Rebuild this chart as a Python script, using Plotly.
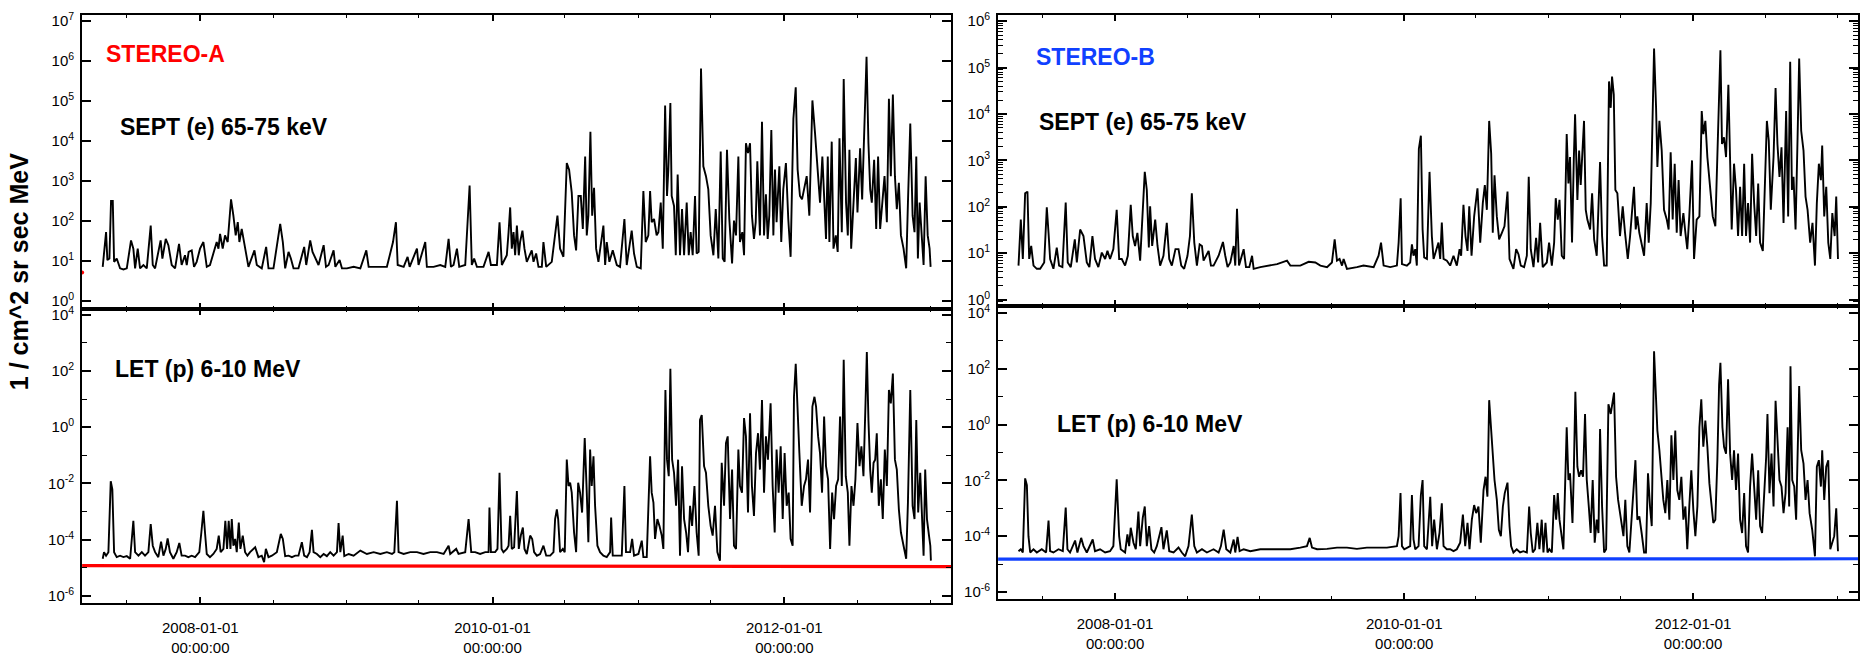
import datetime as dt
import plotly.graph_objects as go

# ---------------- data (decimal year, flux) ----------------
a_sept = [(2007.331,7.2),(2007.354,53),(2007.363,10.6),(2007.377,11.6),(2007.388,320),(2007.400,320),(2007.409,9.6),(2007.427,11.6),(2007.450,6.6),(2007.473,6.2),(2007.496,6.6),(2007.525,33),(2007.541,20.5),(2007.553,6.6),(2007.571,20.5),(2007.587,6.6),(2007.610,8),(2007.633,6.6),(2007.660,77),(2007.674,8),(2007.690,6.6),(2007.728,33),(2007.740,11.6),(2007.763,36),(2007.781,25),(2007.804,8),(2007.827,6.6),(2007.854,27),(2007.872,8),(2007.895,14),(2007.907,8),(2007.920,17),(2007.941,18.6),(2007.957,7.2),(2007.975,9.6),(2007.998,20.5),(2008.021,30),(2008.044,7.2),(2008.066,8),(2008.112,30),(2008.124,20.5),(2008.135,48),(2008.153,20.5),(2008.169,44),(2008.187,30),(2008.210,350),(2008.226,137),(2008.242,44),(2008.256,94),(2008.267,30),(2008.283,64),(2008.299,30),(2008.313,14),(2008.329,7.2),(2008.370,18.6),(2008.386,8),(2008.420,6.6),(2008.450,22.6),(2008.466,6.6),(2008.500,6.6),(2008.546,85),(2008.564,30),(2008.580,6.6),(2008.603,17),(2008.619,11.6),(2008.637,6.6),(2008.671,6.6),(2008.710,22.6),(2008.724,8),(2008.751,33),(2008.767,17),(2008.786,11.6),(2008.808,8),(2008.843,25),(2008.859,7.2),(2008.877,8),(2008.911,18.6),(2008.923,7.2),(2008.952,10.6),(2008.968,6.6),(2009.002,6.6),(2009.048,7.2),(2009.094,6.6),(2009.135,18.6),(2009.151,7.2),(2009.208,7.2),(2009.276,7.2),(2009.318,30),(2009.338,94),(2009.350,8),(2009.391,7.2),(2009.418,12.8),(2009.432,7.2),(2009.482,20.5),(2009.493,8),(2009.539,30),(2009.550,7.2),(2009.596,7.2),(2009.642,8),(2009.676,7.2),(2009.699,36),(2009.715,7.2),(2009.733,8),(2009.756,20.5),(2009.772,7.2),(2009.813,8),(2009.843,780),
(2009.858,8),(2009.874,11.6),(2009.893,7.2),(2009.938,7.2),(2009.973,17),(2009.989,8),(2010.030,8),(2010.048,94),(2010.064,8),(2010.098,14),(2010.110,53),(2010.121,220),(2010.132,20.5),(2010.144,53),(2010.155,14),(2010.167,77),(2010.180,14),(2010.189,30),(2010.205,58),(2010.219,20.5),(2010.235,9.6),(2010.269,18.6),(2010.281,9.6),(2010.299,15.5),(2010.315,7.2),(2010.338,7.2),(2010.349,30),(2010.368,7.2),(2010.406,9.6),(2010.429,53),(2010.445,137),(2010.463,20.5),(2010.486,12.8),(2010.509,2840),(2010.525,1940),(2010.543,515),(2010.559,44),(2010.573,18.6),(2010.589,425),(2010.605,425),(2010.619,64),(2010.635,4140),(2010.646,44),(2010.657,137),(2010.671,17200),(2010.683,137),(2010.696,685),(2010.710,20.5),(2010.726,9.6),(2010.760,77),(2010.772,8),(2010.783,30),(2010.801,9.6),(2010.824,18.6),(2010.852,8),(2010.874,7.2),(2010.904,113),(2010.920,8),(2010.954,58),(2010.970,15.5),(2010.989,7.2),(2011.016,6.6),(2011.034,565),(2011.050,30),(2011.068,44),(2011.080,565),(2011.091,94),(2011.107,113),(2011.125,44),(2011.137,53),(2011.153,290),(2011.167,20.5),(2011.183,78000),(2011.196,425),(2011.205,1940),(2011.219,89000),(2011.228,425),(2011.244,240),(2011.256,14),(2011.269,1460),(2011.285,14),(2011.299,200),(2011.313,14),(2011.331,290),(2011.345,14),(2011.358,53),(2011.372,14),(2011.388,425),(2011.399,15.5),(2011.413,17),(2011.429,650000),(2011.445,2340),(2011.463,1330),(2011.479,620),(2011.495,44),(2011.514,14),(2011.530,200),(2011.548,11.6),(2011.564,5500),(2011.578,11.6),(2011.591,9.6),(2011.607,6050),(2011.623,113),(2011.642,8.8),(2011.655,103),(2011.669,44),(2011.685,4140),(2011.696,30),(2011.712,53),(2011.724,14),(2011.737,8850),(2011.751,5000),(2011.765,8850),(2011.778,137),(2011.792,36),(2011.804,94),(2011.815,3120),(2011.833,44),(2011.847,30300),(2011.861,44),(2011.874,470),(2011.886,36),(2011.897,137),(2011.911,18900),(2011.925,44),(2011.936,1940),(2011.947,94),(2011.966,2340),(2011.979,30),(2011.993,620),(2012.011,2840),(2012.027,113),(2012.043,12.8),(2012.062,36600),(2012.078,222000),(2012.091,1940),(2012.107,425),(2012.121,350),(2012.137,685),(2012.153,1330),(2012.171,137),(2012.192,104000),(2012.210,15600),(2012.226,1940),(2012.244,290),(2012.260,4140),(2012.274,290),(2012.285,36),(2012.297,4140),(2012.308,30),(2012.324,9700),(2012.336,20.5),(2012.352,44),(2012.365,17),(2012.377,11750),(2012.393,53),(2012.406,356000),(2012.422,290),(2012.434,44),(2012.445,6050),(2012.457,20.5),(2012.473,290),(2012.489,3770),(2012.500,165),(2012.518,6650),(2012.532,350),(2012.546,27500),(2012.562,1290000),(2012.575,8850),(2012.587,620),(2012.598,290),(2012.614,3430),(2012.628,64),(2012.641,4140),(2012.655,64),(2012.669,290),(2012.685,1330),(2012.701,94),(2012.715,114000),(2012.728,1330),(2012.742,146000),(2012.756,1330),(2012.769,200),(2012.783,910),(2012.797,44),(2012.815,20.5),(2012.833,6.6),(2012.845,290),(2012.861,27500),(2012.877,137),(2012.890,53),(2012.902,4140),(2012.913,11.6),(2012.925,290),(2012.938,64),(2012.952,8),(2012.966,1330),(2012.980,44),(2012.993,20.5),(2013.000,7.2)]

a_let = [(2007.331,2.1e-5),(2007.340,3.6e-5),(2007.354,2.7e-5),(2007.370,3.6e-5),(2007.386,1.2e-2),(2007.397,6.1e-3),(2007.409,3.6e-5),(2007.427,2.4e-5),(2007.450,2.7e-5),(2007.473,2.4e-5),(2007.496,2.6e-5),(2007.519,2.1e-5),(2007.541,4.7e-4),(2007.553,3.6e-5),(2007.576,2.7e-5),(2007.599,3.6e-5),(2007.621,2.7e-5),(2007.644,3.6e-5),(2007.660,3.6e-4),(2007.674,6.1e-5),(2007.690,3.6e-5),(2007.712,2.4e-5),(2007.731,8.5e-5),(2007.747,2.7e-5),(2007.763,4.7e-5),(2007.776,1.1e-4),(2007.792,3.6e-5),(2007.815,2.1e-5),(2007.838,3.6e-5),(2007.856,7.6e-5),(2007.872,2.7e-5),(2007.895,2.7e-5),(2007.918,2.4e-5),(2007.941,2.7e-5),(2007.964,2.4e-5),(2007.993,3.6e-5),(2008.007,1.8e-4),(2008.021,1.06e-3),(2008.032,1.8e-4),(2008.044,3.1e-5),(2008.066,2.4e-5),(2008.089,3.1e-5),(2008.112,4.7e-5),(2008.126,1.4e-4),(2008.139,3.6e-5),(2008.158,4.7e-5),(2008.171,4.7e-4),(2008.183,4.7e-5),(2008.194,4.7e-4),(2008.206,4.7e-5),(2008.215,5.4e-4),(2008.226,6.1e-5),(2008.238,1.06e-4),(2008.249,3.6e-5),(2008.263,4.1e-4),(2008.274,4.7e-5),(2008.290,1.4e-4),(2008.306,3.6e-5),(2008.322,2.7e-5),(2008.340,3.6e-5),(2008.375,5.4e-5),(2008.397,2.4e-5),(2008.420,2.7e-5),(2008.436,1.6e-5),(2008.448,4.7e-5),(2008.466,2.4e-5),(2008.489,2.7e-5),(2008.523,3.6e-5),(2008.550,1.6e-4),(2008.564,1.06e-4),(2008.580,2.6e-5),(2008.603,2.7e-5),(2008.626,2.4e-5),(2008.649,2.7e-5),(2008.671,2.7e-5),(2008.694,8.1e-5),(2008.710,2.7e-5),(2008.729,2.4e-5),(2008.747,3.6e-5),(2008.763,2.25e-4),(2008.774,3.6e-5),(2008.797,3.1e-5),(2008.820,2.4e-5),(2008.843,3.1e-5),(2008.865,2.6e-5),(2008.888,3.6e-5),(2008.911,2.7e-5),(2008.934,3.6e-5),(2008.945,3.9e-4),(2008.957,3.6e-5),(2008.973,1.4e-4),(2008.984,2.6e-5),(2009.014,3.1e-5),(2009.048,2.7e-5),(2009.094,4.1e-5),(2009.139,3.1e-5),(2009.185,3.6e-5),(2009.231,3.1e-5),(2009.276,3.6e-5),(2009.311,3.1e-5),(2009.327,3.6e-5),(2009.345,2.4e-3),(2009.356,3.6e-5),(2009.391,3.1e-5),(2009.436,3.6e-5),(2009.482,3.6e-5),(2009.527,3.1e-5),(2009.573,3.6e-5),(2009.619,3.6e-5),(2009.665,3.1e-5),(2009.699,6.1e-5),(2009.710,3.1e-5),(2009.751,4.7e-5),(2009.767,3.1e-5),(2009.813,3.6e-5),(2009.836,5.4e-4),
(2009.854,3.6e-5),(2009.881,3.6e-5),(2009.915,3.1e-5),(2009.950,3.6e-5),(2009.973,3.6e-5),(2009.979,1.4e-3),(2009.989,3.6e-5),(2010.018,3.6e-5),(2010.034,4.7e-5),(2010.048,2.4e-2),(2010.062,4.7e-5),(2010.075,3.6e-5),(2010.098,4.7e-5),(2010.110,6.1e-5),(2010.121,7e-4),(2010.132,4.7e-5),(2010.148,5.4e-5),(2010.167,5.4e-3),(2010.180,4.7e-5),(2010.194,1.4e-4),(2010.208,2.7e-4),(2010.219,4.7e-5),(2010.235,3.1e-5),(2010.258,1.4e-4),(2010.272,1.06e-4),(2010.285,3.6e-5),(2010.304,2.7e-5),(2010.326,3.1e-5),(2010.349,6.1e-5),(2010.368,2.7e-5),(2010.395,2.7e-5),(2010.418,3.6e-5),(2010.429,5.4e-4),(2010.441,1.2e-3),(2010.450,5.4e-4),(2010.463,3.6e-5),(2010.482,4.7e-5),(2010.495,3.6e-5),(2010.509,7e-2),(2010.521,8.1e-3),(2010.532,1.06e-2),(2010.543,4.7e-3),(2010.559,1.8e-4),(2010.573,3.6e-5),(2010.587,1.06e-2),(2010.600,4.7e-3),(2010.614,9.2e-4),(2010.632,0.41),(2010.646,4.7e-3),(2010.657,8.1e-5),(2010.669,0.16),(2010.680,8.1e-3),(2010.692,9.2e-2),(2010.703,1.6e-3),(2010.719,6.1e-5),(2010.737,3.6e-5),(2010.760,2.7e-5),(2010.783,2.4e-5),(2010.806,3.6e-5),(2010.813,6.1e-4),(2010.824,2.7e-5),(2010.852,2.7e-5),(2010.886,2.7e-5),(2010.904,8.1e-3),(2010.915,3.6e-5),(2010.943,3.6e-5),(2010.957,1.06e-4),(2010.970,2.7e-5),(2011.000,3.1e-5),(2011.023,9.2e-5),(2011.034,2.4e-5),(2011.057,2.4e-5),(2011.080,9.2e-2),(2011.091,4.7e-3),(2011.103,2.1e-3),(2011.114,1.06e-4),(2011.130,5.4e-4),(2011.144,3.1e-4),(2011.160,1.4e-4),(2011.171,4.7e-5),(2011.185,21),(2011.196,7e-2),(2011.208,1.8e-2),(2011.219,120),(2011.231,7e-2),(2011.244,2.4e-2),(2011.258,1.6e-3),(2011.272,7e-2),(2011.285,2.7e-5),(2011.299,4.1e-2),(2011.313,5.4e-4),(2011.327,1.8e-4),(2011.340,3.6e-5),(2011.354,1.6e-3),(2011.368,3.1e-4),(2011.384,8.1e-3),(2011.399,1.8e-4),(2011.413,2.7e-5),(2011.422,1.8),(2011.434,2.7),(2011.450,4.1e-2),(2011.463,2.4e-2),(2011.479,1.6e-3),(2011.495,3.1e-4),(2011.509,1.4e-4),(2011.525,1.6e-3),(2011.541,3.6e-5),(2011.559,1.8e-5),(2011.571,5.4e-2),(2011.587,1.6e-3),(2011.600,0.27),(2011.612,0.47),(2011.628,5.4e-4),(2011.642,3.1e-2),(2011.655,6.1e-5),(2011.669,4.7e-5),(2011.685,0.16),(2011.696,8.1e-3),(2011.710,4.7e-3),(2011.724,2.1),(2011.737,0.47),(2011.751,9.2e-4),(2011.765,3.1),(2011.778,8.1e-3),(2011.792,7e-4),(2011.806,0.12),(2011.820,0.61),(2011.833,3.1e-2),(2011.847,9.2),(2011.861,4.7e-3),(2011.874,0.47),(2011.888,7e-2),(2011.906,7),(2011.920,8.1e-3),(2011.934,1.8e-4),(2011.947,0.16),(2011.961,4.7e-3),(2011.975,0.21),(2011.989,5.4e-4),(2012.002,0.12),(2012.016,1.6e-3),(2012.030,4.7e-3),(2012.043,1.06e-4),(2012.057,6.1e-5),(2012.066,12),(2012.078,180),(2012.089,12),(2012.103,0.12),(2012.119,1.6e-3),(2012.135,8.1e-3),(2012.148,1.4e-2),(2012.162,7e-2),(2012.176,9.2e-4),(2012.192,5.4),(2012.206,12),(2012.217,5.4),(2012.231,0.47),(2012.244,0.12),(2012.258,4.7e-3),(2012.272,2.4),(2012.285,4.1e-2),(2012.299,1.4e-2),(2012.313,4.7e-5),(2012.327,4.7e-3),(2012.340,5.4e-4),(2012.354,8.1e-3),(2012.368,1.4e-2),(2012.381,2.4),(2012.393,8.1e-3),(2012.406,250),(2012.420,1.8e-2),(2012.434,4.7e-3),(2012.445,6.1e-5),(2012.459,8.1e-3),(2012.473,1.6e-3),(2012.486,1.4e-2),(2012.500,1.4),(2012.514,4.1e-2),(2012.527,0.21),(2012.541,1.8e-2),(2012.555,7),(2012.564,470),(2012.575,1.8),(2012.587,3.1e-2),(2012.598,4.7e-3),(2012.610,5.4e-2),(2012.621,7e-2),(2012.632,0.61),(2012.646,1.6e-3),(2012.660,1.4e-2),(2012.673,5.4e-4),(2012.687,0.16),(2012.701,8.1e-3),(2012.715,21),(2012.728,7),(2012.742,80),(2012.756,7e-2),(2012.769,3.1e-2),(2012.783,1.2e-3),(2012.797,1.8e-4),(2012.815,6.1e-5),(2012.833,2.1e-5),(2012.845,2.1e-3),(2012.861,21),(2012.877,1.6e-3),(2012.890,5.4e-4),(2012.902,1.8),(2012.915,9.2e-4),(2012.929,2.4e-2),(2012.941,3.1e-4),(2012.952,2.7e-5),(2012.963,3.1e-2),(2012.975,5.4e-4),(2012.989,1.4e-4),(2012.998,6.1e-5),(2013.002,1.8e-5)]

b_sept = [(2007.331,5.4),(2007.347,53),(2007.361,7.5),(2007.377,195),(2007.393,212),(2007.405,7.5),(2007.419,14.3),(2007.435,5.4),(2007.458,4.6),(2007.481,4.6),(2007.509,6.3),(2007.527,98),(2007.539,27.5),(2007.550,7.5),(2007.573,4.6),(2007.596,13.2),(2007.612,5.4),(2007.635,5.0),(2007.658,124),(2007.672,6.3),(2007.693,5.0),(2007.721,19.9),(2007.735,6.3),(2007.758,32.4),(2007.781,23.4),(2007.804,6.3),(2007.822,5.0),(2007.843,23.4),(2007.861,7.5),(2007.884,5.0),(2007.908,10.3),(2007.931,7.5),(2007.947,11.2),(2007.965,7.5),(2007.988,12.2),(2008.011,86),(2008.028,7.5),(2008.046,7.5),(2008.069,5.4),(2008.088,8.8),(2008.108,110),(2008.122,23.4),(2008.138,14.3),(2008.154,27.5),(2008.173,6.9),(2008.191,120),(2008.205,565),(2008.219,230),(2008.233,13.2),(2008.242,102),(2008.256,14.3),(2008.277,53),(2008.293,14.3),(2008.311,5.4),(2008.334,8.8),(2008.357,45),(2008.374,7.5),(2008.392,5.4),(2008.417,12.2),(2008.438,12.2),(2008.457,5.4),(2008.477,4.6),(2008.500,8.8),(2008.517,23.4),(2008.530,195),(2008.547,16.9),(2008.565,5.4),(2008.584,15.5),(2008.600,14.3),(2008.611,6.9),(2008.627,8.8),(2008.646,11.2),(2008.662,5.4),(2008.680,5.4),(2008.715,8.8),(2008.745,17.4),(2008.761,8.8),(2008.777,5.0),(2008.796,6.3),(2008.819,14.3),(2008.830,5.4),(2008.842,91),(2008.856,5.4),(2008.876,8.8),(2008.888,12.2),(2008.904,5.0),(2008.927,5.0),(2008.946,8.8),(2008.957,4.6),(2009.003,5.0),(2009.073,5.4),(2009.119,5.8),(2009.188,6.9),(2009.211,5.4),(2009.280,5.4),(2009.338,6.5),(2009.384,6.3),(2009.419,5.4),(2009.465,5.0),(2009.499,6.3),(2009.518,19.9),(2009.534,6.9),(2009.552,7.5),(2009.569,5.4),(2009.580,7.5),(2009.603,4.6),(2009.672,5.0),(2009.718,5.4),(2009.788,5.0),(2009.822,8.8),(2009.839,16.9),(2009.857,5.4),(2009.903,5.0),(2009.949,5.4),(2009.961,16.9),(2009.975,153),
(2009.984,5.8),(2010.018,5.4),(2010.041,6.3),(2010.053,15.5),(2010.064,8.8),(2010.076,12.2),(2010.087,5.4),(2010.101,1770),(2010.115,3400),(2010.127,32.4),(2010.138,8.1),(2010.157,7.5),(2010.175,565),(2010.191,23.4),(2010.203,7.5),(2010.221,12.2),(2010.237,16.9),(2010.249,7.5),(2010.260,46),(2010.272,7.5),(2010.295,6.9),(2010.318,5.4),(2010.341,8.8),(2010.364,5.4),(2010.383,12.2),(2010.394,8.8),(2010.410,110),(2010.424,23.4),(2010.438,11.2),(2010.450,102),(2010.466,8.8),(2010.484,62),(2010.507,250),(2010.526,16.9),(2010.544,120),(2010.558,294),(2010.572,86),(2010.588,7100),(2010.602,1390),(2010.613,27.5),(2010.625,480),(2010.641,62),(2010.657,19.9),(2010.676,27.5),(2010.694,38),(2010.715,212),(2010.729,7.5),(2010.756,4.6),(2010.775,12.2),(2010.791,9.5),(2010.807,5.4),(2010.830,5.0),(2010.849,8.8),(2010.862,442),(2010.876,12.2),(2010.895,5.0),(2010.913,21.5),(2010.927,6.3),(2010.941,45),(2010.959,5.0),(2010.987,6.3),(2011.003,16.9),(2011.022,5.4),(2011.038,16.9),(2011.049,153),(2011.063,53),(2011.075,141),(2011.091,8.8),(2011.107,7.5),(2011.125,3690),(2011.137,319),(2011.148,1180),(2011.162,16.9),(2011.174,1000),(2011.183,9840),(2011.199,141),(2011.211,1630),(2011.222,294),(2011.234,1630),(2011.245,7100),(2011.257,86),(2011.268,53),(2011.287,32.4),(2011.301,195),(2011.315,19.9),(2011.333,8.8),(2011.356,922),(2011.370,23.4),(2011.384,5.4),(2011.402,5.4),(2011.418,50400),(2011.430,13600),(2011.439,64400),(2011.451,26200),(2011.462,230),(2011.476,195),(2011.494,23.4),(2011.513,102),(2011.529,27.5),(2011.548,7.5),(2011.564,23.4),(2011.578,102),(2011.591,271),(2011.603,32.4),(2011.614,62),(2011.628,27.5),(2011.644,16.9),(2011.661,8.8),(2011.679,120),(2011.693,16.9),(2011.707,120),(2011.730,258000),(2011.744,13600),(2011.753,721),(2011.767,7100),(2011.783,1630),(2011.799,86),(2011.818,53),(2011.831,32.4),(2011.845,1500),(2011.859,53),(2011.873,849),(2011.887,27.5),(2011.900,375),(2011.914,23.4),(2011.933,73),(2011.947,27.5),(2011.960,12.2),(2011.974,62),(2011.993,1000),(2012.007,7.5),(2012.025,53),(2012.044,62),(2012.060,11600),(2012.071,3690),(2012.085,7100),(2012.099,1180),(2012.117,271),(2012.136,62),(2012.154,38),(2012.168,849),(2012.180,13600),(2012.189,238000),(2012.200,2260),(2012.214,3140),(2012.228,1180),(2012.244,42800),(2012.256,1000),(2012.267,32.4),(2012.283,849),(2012.297,230),(2012.311,23.4),(2012.325,271),(2012.339,23.4),(2012.353,849),(2012.366,23.4),(2012.380,120),(2012.394,16.9),(2012.408,1390),(2012.422,120),(2012.436,23.4),(2012.450,319),(2012.463,16.9),(2012.482,11.2),(2012.496,230),(2012.510,7100),(2012.523,2670),(2012.537,86),(2012.556,1180),(2012.570,36300),(2012.583,2260),(2012.597,442),(2012.611,1920),(2012.625,45),(2012.643,11600),(2012.657,62),(2012.671,134000),(2012.683,230),(2012.694,442),(2012.708,32.4),(2012.722,3140),(2012.733,158000),(2012.747,4350),(2012.763,1630),(2012.777,166),(2012.791,86),(2012.809,16.9),(2012.825,45),(2012.842,5.4),(2012.855,120),(2012.869,849),(2012.883,375),(2012.892,2090),(2012.906,62),(2012.920,271),(2012.934,16.9),(2012.948,7.5),(2012.962,73),(2012.978,23.4),(2012.989,166),(2013.001,7.5)]

b_let = [(2007.331,2.9e-5),(2007.347,3.4e-5),(2007.361,2.6e-5),(2007.377,1.18e-2),(2007.389,6.8e-3),(2007.400,1e-4),(2007.412,2.6e-5),(2007.435,3.4e-5),(2007.458,2.6e-5),(2007.492,3.4e-5),(2007.522,2.6e-5),(2007.539,3.6e-4),(2007.550,2.9e-5),(2007.573,2.6e-5),(2007.608,3.4e-5),(2007.638,2.9e-5),(2007.658,1.07e-3),(2007.670,3.4e-5),(2007.688,2.6e-5),(2007.723,7e-5),(2007.739,2.6e-5),(2007.765,8.7e-5),(2007.781,4.4e-5),(2007.804,2.6e-5),(2007.845,7.6e-5),(2007.861,2.9e-5),(2007.896,3.4e-5),(2007.931,2.6e-5),(2007.965,2.9e-5),(2007.988,4.4e-5),(2008.011,1.09e-2),(2008.028,1e-4),(2008.039,3.4e-5),(2008.069,2.6e-5),(2008.085,1.15e-4),(2008.097,4.4e-5),(2008.108,2e-4),(2008.127,5.8e-5),(2008.143,3.4e-5),(2008.161,7.7e-4),(2008.173,4.4e-5),(2008.191,4.5e-4),(2008.205,1.16e-3),(2008.219,4.4e-5),(2008.235,2.3e-4),(2008.251,3.4e-5),(2008.270,2.6e-5),(2008.288,4.4e-5),(2008.320,2.1e-4),(2008.334,3.4e-5),(2008.357,1.6e-4),(2008.374,2.9e-5),(2008.404,2.6e-5),(2008.438,3.9e-5),(2008.461,2.6e-5),(2008.484,1.9e-5),(2008.507,4.4e-5),(2008.530,5.9e-4),(2008.547,4.4e-5),(2008.565,2.6e-5),(2008.600,3.4e-5),(2008.634,2.6e-5),(2008.680,3.4e-5),(2008.715,2.6e-5),(2008.731,4.4e-5),(2008.750,1.7e-4),(2008.768,3.4e-5),(2008.796,2.6e-5),(2008.819,7.6e-5),(2008.830,2.6e-5),(2008.846,9.5e-5),(2008.860,2.9e-5),(2008.888,3.4e-5),(2008.934,2.9e-5),(2009.003,3.4e-5),(2009.073,3.4e-5),(2009.142,3.5e-5),(2009.211,3.4e-5),(2009.280,3.9e-5),(2009.326,4.4e-5),(2009.345,8.7e-5),(2009.361,3.9e-5),(2009.396,3.4e-5),(2009.465,3.5e-5),(2009.534,3.9e-5),(2009.603,3.9e-5),(2009.672,3.5e-5),(2009.741,3.9e-5),(2009.811,3.9e-5),(2009.880,3.9e-5),(2009.949,4.4e-5),(2009.961,1e-4),(2009.974,3.5e-3),
(2009.984,4.4e-5),(2010.000,3.4e-5),(2010.018,3.9e-5),(2010.041,4.4e-5),(2010.053,3e-3),(2010.064,7.6e-5),(2010.076,3.4e-5),(2010.099,4.4e-5),(2010.115,3e-3),(2010.127,1.03e-2),(2010.138,4.4e-5),(2010.157,3.4e-5),(2010.180,2.6e-3),(2010.193,4.4e-5),(2010.207,3.9e-4),(2010.226,3.4e-5),(2010.244,1.3e-4),(2010.260,1.5e-3),(2010.272,4.4e-5),(2010.295,3.4e-5),(2010.318,3.4e-5),(2010.341,2.9e-5),(2010.364,3.4e-5),(2010.387,5.8e-5),(2010.406,5.9e-4),(2010.422,4.4e-5),(2010.438,3e-4),(2010.452,3.4e-5),(2010.468,3.9e-4),(2010.484,1.3e-3),(2010.498,6.7e-4),(2010.514,1.16e-3),(2010.530,5.8e-5),(2010.549,4.5e-3),(2010.563,1.35e-2),(2010.576,2.6e-3),(2010.588,7.5),(2010.599,1.06),(2010.613,9.1e-2),(2010.625,1.03e-2),(2010.641,2e-3),(2010.655,1.7e-4),(2010.669,1e-4),(2010.683,1.16e-3),(2010.696,3.5e-3),(2010.715,8.3e-3),(2010.729,2.3e-4),(2010.740,4.4e-5),(2010.756,2.6e-5),(2010.779,3.4e-5),(2010.802,2.6e-5),(2010.825,2.9e-5),(2010.849,2.6e-5),(2010.865,1.16e-3),(2010.876,1.3e-4),(2010.890,2.6e-5),(2010.906,3.4e-5),(2010.922,3e-4),(2010.936,3.4e-5),(2010.952,3.9e-4),(2010.964,2.6e-5),(2010.978,3e-4),(2010.992,2.6e-5),(2011.005,3.4e-5),(2011.022,2.6e-5),(2011.038,3e-3),(2011.052,3.9e-4),(2011.063,3.5e-3),(2011.075,3.9e-4),(2011.088,1e-4),(2011.102,3.4e-5),(2011.125,0.8),(2011.137,1.03e-2),(2011.148,1.8e-2),(2011.165,3e-4),(2011.174,1.8e-2),(2011.185,15),(2011.199,3.1e-2),(2011.211,1.35e-2),(2011.225,2.3e-2),(2011.238,1.35e-2),(2011.252,2.4),(2011.264,1.03e-2),(2011.278,1.16e-3),(2011.291,1.3e-4),(2011.305,1.03e-2),(2011.319,5.8e-5),(2011.333,3.9e-4),(2011.345,1.3e-4),(2011.356,0.7),(2011.370,1.16e-3),(2011.384,2.6e-5),(2011.398,3.4e-5),(2011.414,5.4),(2011.430,2.4),(2011.453,14),(2011.467,1.35e-2),(2011.481,2e-3),(2011.499,3.9e-4),(2011.518,1e-4),(2011.531,2e-3),(2011.545,4.4e-5),(2011.559,2.6e-5),(2011.575,3.9e-4),(2011.587,3.5e-3),(2011.601,5.3e-2),(2011.614,3.9e-4),(2011.628,5.1e-4),(2011.644,1.3e-4),(2011.661,2.6e-5),(2011.674,2.6e-5),(2011.688,1.8e-2),(2011.702,1.16e-3),(2011.714,2.3e-4),(2011.730,424),(2011.744,5.4),(2011.753,0.61),(2011.767,0.12),(2011.781,1.35e-2),(2011.794,2e-3),(2011.808,6.7e-4),(2011.822,1.03e-2),(2011.836,3.9e-4),(2011.850,0.41),(2011.864,1.03e-2),(2011.877,0.61),(2011.891,4.5e-3),(2011.905,2e-3),(2011.919,1.35e-2),(2011.933,3.9e-4),(2011.947,1.16e-3),(2011.960,3.4e-5),(2011.974,1.16e-3),(2011.988,2.3e-2),(2012.002,8.8e-4),(2012.016,1e-4),(2012.030,1.16e-3),(2012.044,0.8),(2012.057,8.1),(2012.071,0.16),(2012.085,1.4),(2012.099,0.16),(2012.113,7.8e-3),(2012.127,1.16e-3),(2012.140,3e-4),(2012.154,3.9e-4),(2012.168,5.3e-2),(2012.180,28),(2012.189,163),(2012.203,0.8),(2012.214,0.16),(2012.228,9.1e-2),(2012.242,42),(2012.256,9.1e-2),(2012.270,1.03e-2),(2012.283,0.12),(2012.297,4.5e-3),(2012.311,9.1e-2),(2012.325,3.9e-4),(2012.339,1.3e-4),(2012.353,3.5e-3),(2012.366,4.4e-5),(2012.380,2.6e-5),(2012.394,6e-3),(2012.408,9.1e-2),(2012.422,6e-3),(2012.436,3.9e-4),(2012.450,2.3e-2),(2012.463,2.3e-4),(2012.477,1.3e-4),(2012.491,3.5e-3),(2012.505,6.9e-2),(2012.514,2.4),(2012.528,3.5e-3),(2012.542,9.1e-2),(2012.556,1.16e-3),(2012.570,7.1),(2012.583,0.27),(2012.597,1.03e-2),(2012.611,6e-3),(2012.625,6.7e-4),(2012.639,3.5e-3),(2012.653,0.8),(2012.664,1.16e-3),(2012.673,124),(2012.685,1.03e-2),(2012.699,6e-3),(2012.712,3.9e-4),(2012.724,1.4),(2012.733,24),(2012.747,0.12),(2012.763,4e-2),(2012.777,2e-3),(2012.791,1.03e-2),(2012.805,6.7e-4),(2012.823,1.7e-4),(2012.842,1.9e-5),(2012.855,3.1e-2),(2012.869,5.3e-2),(2012.883,6e-3),(2012.892,0.12),(2012.906,2e-3),(2012.920,3.1e-2),(2012.934,5.3e-2),(2012.948,3.4e-5),(2012.962,5.8e-5),(2012.975,1e-4),(2012.989,1e-3),(2013.001,2.9e-5)]

# background levels
a_bg_year = [2007.19, 2009.5, 2011.0, 2013.142]
a_bg_flux = [1.2e-5, 1.15e-5, 1.1e-5, 1.1e-5]
b_bg_year = [2007.19, 2009.5, 2011.0, 2013.142]
b_bg_flux = [1.5e-5, 1.5e-5, 1.55e-5, 1.55e-5]
a_sept_bg_year = [2007.19]
a_sept_bg_flux = [5.2]

x_range = ["2007-03-11", "2013-02-21"]
x_major = ["2008-01-01", "2010-01-01", "2012-01-01"]
x_major_text = ["2008-01-01<br>00:00:00", "2010-01-01<br>00:00:00", "2012-01-01<br>00:00:00"]
x_minor = ["2007-07-01", "2008-07-01", "2009-01-01", "2009-07-01", "2010-07-01",
           "2011-01-01", "2011-07-01", "2012-07-01", "2013-01-01"]

a_sept_exp = [0, 1, 2, 3, 4, 5, 6, 7]
b_sept_exp = [0, 1, 2, 3, 4, 5, 6]
let_exp_major = [-6, -4, -2, 0, 2, 4]
let_exp_minor = [-5, -3, -1, 1, 3]


def to_dt(y):
    yr = int(y)
    s = dt.datetime(yr, 1, 1)
    e = dt.datetime(yr + 1, 1, 1)
    return s + (e - s) * (y - yr)


def split(pairs):
    return [to_dt(p[0]) for p in pairs], [p[1] for p in pairs]


W, H = 1862, 658
FONT = "Liberation Sans, Arial, Helvetica, sans-serif"


def pxx(p):
    return p / W


def pxy(p):
    return 1 - p / H


fig = go.Figure()

panels = [
    ("x", "y", a_sept), ("x2", "y2", a_let),
    ("x3", "y3", b_sept), ("x4", "y4", b_let),
]
for xa, ya, data in panels:
    t, v = split(data)
    fig.add_trace(go.Scatter(x=t, y=v, xaxis=xa, yaxis=ya, mode="lines",
                             line=dict(color="black", width=1.9), showlegend=False,
                             hoverinfo="skip"))

fig.add_trace(go.Scatter(x=[to_dt(y) for y in a_bg_year], y=a_bg_flux, xaxis="x2", yaxis="y2",
                         mode="lines", line=dict(color="#ff0000", width=3.2), showlegend=False))
fig.add_trace(go.Scatter(x=[to_dt(y) for y in b_bg_year], y=b_bg_flux, xaxis="x4", yaxis="y4",
                         mode="lines", line=dict(color="#1040ff", width=3.2), showlegend=False))
fig.add_trace(go.Scatter(x=[to_dt(y) for y in a_sept_bg_year], y=a_sept_bg_flux, xaxis="x", yaxis="y",
                         mode="markers", marker=dict(color="#ff0000", size=4), cliponaxis=False,
                         showlegend=False))


def sup(e):
    return "10<sup>%d</sup>" % e


def xaxis(domain, labels, anchor):
    d = dict(domain=domain, anchor=anchor, type="date", range=x_range,
             tickvals=x_major, ticktext=x_major_text, showticklabels=labels,
             ticks="inside", ticklen=6, tickwidth=1.6, tickcolor="black",
             minor=dict(tickvals=x_minor, ticks="inside", ticklen=3, tickwidth=1.4, tickcolor="black"),
             showline=True, linewidth=1.7, linecolor="black", mirror="ticks",
             showgrid=False, zeroline=False,
             tickfont=dict(family=FONT, size=15, color="black"))
    if labels:
        d["ticklabelstandoff"] = 11
    return d


def yaxis(domain, anchor, rng, major, minor_vals, minor_len):
    return dict(domain=domain, anchor=anchor, type="log", range=rng,
                tickvals=[10.0 ** e for e in major], ticktext=[sup(e) for e in major],
                ticks="inside", ticklen=9, tickwidth=1.6, tickcolor="black",
                minor=dict(tickvals=minor_vals, ticks="inside", ticklen=minor_len,
                           tickwidth=1.3, tickcolor="black"),
                showline=True, linewidth=1.7, linecolor="black", mirror="ticks",
                showgrid=False, zeroline=False, ticklabelstandoff=3,
                tickfont=dict(family=FONT, size=15, color="black"))


b_sept_minor = [m * 10.0 ** e for e in range(-1, 7) for m in range(2, 10)]

ax_a = [pxx(82), pxx(951)]
ax_b = [pxx(998), pxx(1858)]

fig.update_layout(
    width=W, height=H, autosize=False,
    margin=dict(l=0, r=0, t=0, b=0),
    paper_bgcolor="white", plot_bgcolor="white",
    font=dict(family=FONT, color="black"),
    xaxis=xaxis(ax_a, False, "y"),
    xaxis2=xaxis(ax_a, True, "y2"),
    xaxis3=xaxis(ax_b, False, "y3"),
    xaxis4=xaxis(ax_b, True, "y4"),
    yaxis=yaxis([pxy(307), pxy(10)], "x", [-0.19, 7.155], a_sept_exp, [], 0),
    yaxis2=yaxis([pxy(604), pxy(307)], "x2", [-6.236, 4.21], let_exp_major,
                 [10.0 ** e for e in let_exp_minor], 5),
    yaxis3=yaxis([pxy(304), pxy(10)], "x3", [-0.134, 6.137], b_sept_exp, b_sept_minor, 5),
    yaxis4=yaxis([pxy(600), pxy(304)], "x4", [-6.238, 4.259], let_exp_major,
                 [10.0 ** e for e in let_exp_minor], 5),
)

labels = [
    ("STEREO-A", 104, 50, "#ff0000"),
    ("SEPT (e) 65-75 keV", 118, 123, "black"),
    ("LET (p) 6-10 MeV", 113, 368, "black"),
    ("STEREO-B", 1034, 53, "#1040ff"),
    ("SEPT (e) 65-75 keV", 1037, 118, "black"),
    ("LET (p) 6-10 MeV", 1055, 424, "black"),
]
for txt, px, py, col in labels:
    fig.add_annotation(x=pxx(px), y=pxy(py), xref="paper", yref="paper",
                       xanchor="left", yanchor="middle", showarrow=False,
                       text="<b>%s</b>" % txt,
                       font=dict(family=FONT, size=23, color=col))

fig.add_annotation(x=pxx(19), y=pxy(270), xref="paper", yref="paper",
                   xanchor="center", yanchor="middle", showarrow=False, textangle=-90,
                   text="<b>1 / cm^2 sr sec MeV</b>",
                   font=dict(family=FONT, size=25, color="black"))

fig.write_html("out.html", include_plotlyjs=True, config={"displayModeBar": False})
